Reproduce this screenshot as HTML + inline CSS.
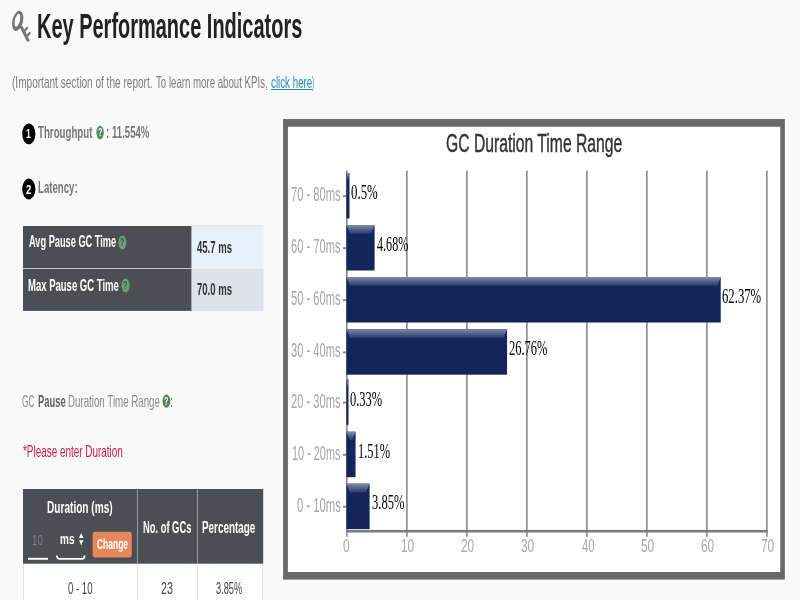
<!DOCTYPE html>
<html lang="en">
<head>
<meta charset="utf-8">
<title>Key Performance Indicators</title>
<style>
html,body{margin:0;padding:0}
body{width:800px;height:600px;overflow:hidden;background:#f9f9f9;position:relative;font-family:'Liberation Sans',sans-serif}
.t{position:absolute;white-space:nowrap;transform-origin:0 0;display:block}
.b{position:absolute}
svg{position:absolute;left:0;top:0}
</style>
</head>
<body>
<svg width="800" height="600" viewBox="0 0 800 600">
<defs>
<linearGradient id="hl" x1="0" y1="0" x2="0" y2="1"><stop offset="0" stop-color="#808aab"/><stop offset="1" stop-color="#27386d"/></linearGradient>
</defs>
<!-- table 1 -->
<rect x="23" y="226" width="168.7" height="42.3" fill="#4b4e53"/>
<rect x="23" y="269" width="168.7" height="41.9" fill="#4b4e53"/>
<rect x="191.6" y="225.3" width="71.8" height="43.2" fill="#e9f2fc"/>
<rect x="191.6" y="225.3" width="71.8" height="1" fill="#dbe2ea"/>
<rect x="191.6" y="268.5" width="71.8" height="42.4" fill="#dde3e8"/>
<!-- table 2 -->
<rect x="23" y="563.6" width="240.2" height="40" fill="#fff"/>
<rect x="23" y="563.6" width="1" height="40" fill="#e0e0e0"/>
<rect x="262.2" y="563.6" width="1" height="40" fill="#e0e0e0"/>
<rect x="137" y="563.6" width="1" height="40" fill="#e0e0e0"/>
<rect x="197" y="563.6" width="1" height="40" fill="#e0e0e0"/>
<rect x="23" y="489" width="240.2" height="74.7" fill="#4b4e53"/>
<rect x="137" y="489" width="1" height="74.7" fill="#9a9c9f"/>
<rect x="197" y="489" width="1" height="74.7" fill="#9a9c9f"/>
<!-- input / select / button -->
<rect x="28" y="557.8" width="20" height="2" fill="#fff"/>
<path d="M56.9 555.6 Q56.9 558.8 59 558.8 H82.4 Q84.5 558.8 84.5 555.6" stroke="#fff" stroke-width="1.8" fill="none"/>
<rect x="92.6" y="531.8" width="39.2" height="25.6" rx="2.2" ry="3.2" fill="#e8865c"/>
<!-- chart frame -->
<rect x="283.1" y="119" width="501.75" height="460.6" fill="#696969"/>
<rect x="287.9" y="126.75" width="492.35" height="445.25" fill="#fff"/>
<!-- key icon -->
<g>
<ellipse cx="17.7" cy="20.9" rx="5.3" ry="10.3" fill="#757575" transform="rotate(14 17.7 20.9)"/>
<ellipse cx="17.4" cy="20.3" rx="2.5" ry="6.6" fill="#f9f9f9" transform="rotate(14 17.4 20.3)"/>
<path d="M21 26.4 L28.6 41.4" stroke="#757575" stroke-width="3.1" fill="none"/>
<path d="M24.6 31 L27.8 27.2 M27.2 36 L30.2 32.4" stroke="#757575" stroke-width="2.2" fill="none"/>
</g>
<!-- bullets -->
<ellipse cx="28.8" cy="133.8" rx="6.6" ry="10.4" fill="#000"/>
<ellipse cx="28.8" cy="189" rx="6.6" ry="10.4" fill="#000"/>
<!-- question icons -->
<ellipse cx="100.1" cy="132.6" rx="3.7" ry="6.8" fill="#568d60"/>
<ellipse cx="122.4" cy="242.5" rx="4" ry="6.9" fill="#6aa075"/>
<ellipse cx="125.6" cy="285.5" rx="4" ry="6.9" fill="#6aa075"/>
<ellipse cx="166.4" cy="401.1" rx="3.9" ry="6.6" fill="#4f8059"/>
<!-- select arrows -->
<path d="M79 538 L81.2 533 L83.4 538 Z M79 540.2 L81.2 545.4 L83.4 540.2 Z" fill="#fff"/>
<!-- grid -->
<g fill="#6e6e6e">
<rect x="346.25" y="170.6" width="1.3" height="366.2"/>
<rect x="406.25" y="170.6" width="1.3" height="366.2"/>
<rect x="466.25" y="170.6" width="1.3" height="366.2"/>
<rect x="526.25" y="170.6" width="1.3" height="366.2"/>
<rect x="586.25" y="170.6" width="1.3" height="366.2"/>
<rect x="646.25" y="170.6" width="1.3" height="366.2"/>
<rect x="706.25" y="170.6" width="1.3" height="366.2"/>
<rect x="766.25" y="170.6" width="1.3" height="366.2"/>
</g><g fill="#8a8a8a">
<rect x="343" y="195.15" width="3.6" height="2"/>
<rect x="343" y="247.15" width="3.6" height="2"/>
<rect x="343" y="299.15" width="3.6" height="2"/>
<rect x="343" y="351.35" width="3.6" height="2"/>
<rect x="343" y="401.55" width="3.6" height="2"/>
<rect x="343" y="453.85" width="3.6" height="2"/>
<rect x="343" y="505.75" width="3.6" height="2"/>
</g>
<rect x="346.3" y="529.9" width="421.4" height="2.6" fill="#7a7a7a"/>
<rect x="346.4" y="173.00" width="3.10" height="45.5" fill="#13255a"/>
<path d="M346.4 173.00 H349.50 L347.95 181.80 H347.95 Z" fill="url(#hl)"/>
<rect x="346.4" y="225.00" width="28.18" height="45.5" fill="#13255a"/>
<path d="M346.4 225.00 H374.58 L371.18 233.80 H349.80 Z" fill="url(#hl)"/>
<rect x="346.4" y="277.00" width="374.32" height="45.5" fill="#13255a"/>
<path d="M346.4 277.00 H720.72 L717.32 285.80 H349.80 Z" fill="url(#hl)"/>
<rect x="346.4" y="329.20" width="160.66" height="45.5" fill="#13255a"/>
<path d="M346.4 329.20 H507.06 L503.66 338.00 H349.80 Z" fill="url(#hl)"/>
<rect x="346.4" y="379.40" width="2.08" height="45.5" fill="#13255a"/>
<path d="M346.4 379.40 H348.48 L347.44 388.20 H347.44 Z" fill="url(#hl)"/>
<rect x="346.4" y="431.70" width="9.16" height="45.5" fill="#13255a"/>
<path d="M346.4 431.70 H355.56 L352.16 440.50 H349.80 Z" fill="url(#hl)"/>
<rect x="346.4" y="483.60" width="23.20" height="45.5" fill="#13255a"/>
<path d="M346.4 483.60 H369.60 L366.20 492.40 H349.80 Z" fill="url(#hl)"/>
</svg>
<span class="t " style="left:36.86px;top:8.00px;font:700 35px/35px 'Liberation Sans',sans-serif;color:#222;transform:scaleX(0.5706);">Key Performance Indicators</span>
<span class="t " style="left:11.59px;top:74.00px;font:400 16.5px/16.5px 'Liberation Sans',sans-serif;color:#7d7d7d;transform:scaleX(0.6105);">(Important section of the report.</span>
<span class="t " style="left:156.00px;top:74.00px;font:400 16.5px/16.5px 'Liberation Sans',sans-serif;color:#7d7d7d;transform:scaleX(0.5853);">To learn more about KPIs,</span>
<span class="t " style="left:270.91px;top:74.00px;font:400 16.5px/16.5px 'Liberation Sans',sans-serif;color:#2b8bb3;transform:scaleX(0.5926);text-decoration:underline">click here</span>
<span class="t " style="left:312.20px;top:74.00px;font:400 16.5px/16.5px 'Liberation Sans',sans-serif;color:#7d7d7d;transform:scaleX(0.4000);">)</span>
<span class="t " style="left:26.33px;top:127.00px;font:700 13px/13px 'Liberation Sans',sans-serif;color:#fff;transform:scaleX(0.6667);">1</span>
<span class="t " style="left:38.40px;top:125.00px;font:700 16px/16px 'Liberation Sans',sans-serif;color:#777;transform:scaleX(0.6067);">Throughput</span>
<span class="t " style="left:106.40px;top:125.00px;font:700 16px/16px 'Liberation Sans',sans-serif;color:#777;transform:scaleX(0.6000);">:</span>
<span class="t " style="left:111.80px;top:125.00px;font:700 16px/16px 'Liberation Sans',sans-serif;color:#777;transform:scaleX(0.6000);">11.554%</span>
<span class="t " style="left:26.40px;top:183.00px;font:700 13px/13px 'Liberation Sans',sans-serif;color:#fff;transform:scaleX(0.7429);">2</span>
<span class="t " style="left:37.80px;top:180.00px;font:700 16px/16px 'Liberation Sans',sans-serif;color:#777;transform:scaleX(0.6031);">Latency:</span>
<span class="t " style="left:28.50px;top:234.00px;font:700 16px/16px 'Liberation Sans',sans-serif;color:#fff;transform:scaleX(0.5768);">Avg Pause GC Time</span>
<span class="t " style="left:28.01px;top:278.00px;font:700 16px/16px 'Liberation Sans',sans-serif;color:#fff;transform:scaleX(0.5947);">Max Pause GC Time</span>
<span class="t " style="left:197.40px;top:240.00px;font:700 16px/16px 'Liberation Sans',sans-serif;color:#333;transform:scaleX(0.5966);">45.7 ms</span>
<span class="t " style="left:197.40px;top:282.00px;font:700 16px/16px 'Liberation Sans',sans-serif;color:#333;transform:scaleX(0.5966);">70.0 ms</span>
<span class="t " style="left:22.19px;top:393.00px;font:400 16.5px/16.5px 'Liberation Sans',sans-serif;color:#8c8c8c;transform:scaleX(0.5087);">GC</span>
<span class="t " style="left:37.63px;top:393.00px;font:700 16.5px/16.5px 'Liberation Sans',sans-serif;color:#666;transform:scaleX(0.5702);">Pause</span>
<span class="t " style="left:67.61px;top:393.00px;font:400 16.5px/16.5px 'Liberation Sans',sans-serif;color:#8c8c8c;transform:scaleX(0.5896);">Duration Time Range</span>
<span class="t " style="left:170.25px;top:393.00px;font:400 16.5px/16.5px 'Liberation Sans',sans-serif;color:#666;transform:scaleX(0.6500);">:</span>
<span class="t " style="left:22.80px;top:443.00px;font:400 16.5px/16.5px 'Liberation Sans',sans-serif;color:#c9233f;transform:scaleX(0.6012);">*Please enter Duration</span>
<span class="t " style="left:46.97px;top:500.00px;font:700 16px/16px 'Liberation Sans',sans-serif;color:#fff;transform:scaleX(0.6314);">Duration (ms)</span>
<span class="t " style="left:32.33px;top:533.00px;font:400 14.5px/14.5px 'Liberation Sans',sans-serif;color:#7d7f83;transform:scaleX(0.6667);">10</span>
<span class="t " style="left:60.33px;top:531.00px;font:700 15px/15px 'Liberation Sans',sans-serif;color:#fff;transform:scaleX(0.6700);">ms</span>
<span class="t " style="left:97.00px;top:536.00px;font:700 15.5px/15.5px 'Liberation Sans',sans-serif;color:#fff;transform:scaleX(0.5464);">Change</span>
<span class="t " style="left:143.01px;top:520.00px;font:700 16px/16px 'Liberation Sans',sans-serif;color:#fff;transform:scaleX(0.5852);">No. of GCs</span>
<span class="t " style="left:202.38px;top:520.00px;font:700 16px/16px 'Liberation Sans',sans-serif;color:#fff;transform:scaleX(0.6188);">Percentage</span>
<span class="t " style="left:68.00px;top:581.00px;font:400 16px/16px 'Liberation Sans',sans-serif;color:#444;transform:scaleX(0.6000);">0 - 10</span>
<span class="t " style="left:161.34px;top:581.00px;font:400 16px/16px 'Liberation Sans',sans-serif;color:#444;transform:scaleX(0.6625);">23</span>
<span class="t " style="left:216.42px;top:581.00px;font:400 16px/16px 'Liberation Sans',sans-serif;color:#444;transform:scaleX(0.5773);">3.85%</span>
<span class="t " style="left:446.00px;top:130.00px;font:400 26px/26px 'Liberation Sans',sans-serif;color:#333;transform:scaleX(0.6038);-webkit-text-stroke:0.45px #333">GC Duration Time Range</span>
<span class="t " style="left:290.83px;top:185.00px;font:400 19.5px/19.5px 'Liberation Sans',sans-serif;color:#a6a6a6;transform:scaleX(0.5729);">70 - 80ms</span>
<span class="t " style="left:290.83px;top:237.00px;font:400 19.5px/19.5px 'Liberation Sans',sans-serif;color:#a6a6a6;transform:scaleX(0.5706);">60 - 70ms</span>
<span class="t " style="left:290.83px;top:289.00px;font:400 19.5px/19.5px 'Liberation Sans',sans-serif;color:#a6a6a6;transform:scaleX(0.5706);">50 - 60ms</span>
<span class="t " style="left:290.83px;top:341.00px;font:400 19.5px/19.5px 'Liberation Sans',sans-serif;color:#a6a6a6;transform:scaleX(0.5706);">30 - 40ms</span>
<span class="t " style="left:290.83px;top:392.00px;font:400 19.5px/19.5px 'Liberation Sans',sans-serif;color:#a6a6a6;transform:scaleX(0.5706);">20 - 30ms</span>
<span class="t " style="left:291.84px;top:444.00px;font:400 19.5px/19.5px 'Liberation Sans',sans-serif;color:#a6a6a6;transform:scaleX(0.5588);">10 - 20ms</span>
<span class="t " style="left:296.82px;top:496.00px;font:400 19.5px/19.5px 'Liberation Sans',sans-serif;color:#a6a6a6;transform:scaleX(0.5770);">0 - 10ms</span>
<span class="t " style="left:350.66px;top:182.00px;font:400 20px/20px 'Liberation Serif',serif;color:#000;transform:scaleX(0.6425);">0.5%</span>
<span class="t " style="left:376.70px;top:234.00px;font:400 20px/20px 'Liberation Serif',serif;color:#000;transform:scaleX(0.6059);">4.68%</span>
<span class="t " style="left:722.26px;top:286.00px;font:400 20px/20px 'Liberation Serif',serif;color:#000;transform:scaleX(0.6350);">62.37%</span>
<span class="t " style="left:508.68px;top:338.00px;font:400 20px/20px 'Liberation Serif',serif;color:#000;transform:scaleX(0.6217);">26.76%</span>
<span class="t " style="left:350.28px;top:389.00px;font:400 20px/20px 'Liberation Serif',serif;color:#000;transform:scaleX(0.6220);">0.33%</span>
<span class="t " style="left:357.66px;top:441.00px;font:400 20px/20px 'Liberation Serif',serif;color:#000;transform:scaleX(0.6224);">1.51%</span>
<span class="t " style="left:371.67px;top:492.00px;font:400 20px/20px 'Liberation Serif',serif;color:#000;transform:scaleX(0.6260);">3.85%</span>
<span class="t " style="left:343.26px;top:537.00px;font:400 18.5px/18.5px 'Liberation Sans',sans-serif;color:#a8a8a8;transform:scaleX(0.6444);">0</span>
<span class="t " style="left:400.86px;top:537.00px;font:400 18.5px/18.5px 'Liberation Sans',sans-serif;color:#a8a8a8;transform:scaleX(0.6421);">10</span>
<span class="t " style="left:460.86px;top:537.00px;font:400 18.5px/18.5px 'Liberation Sans',sans-serif;color:#a8a8a8;transform:scaleX(0.6421);">20</span>
<span class="t " style="left:520.86px;top:537.00px;font:400 18.5px/18.5px 'Liberation Sans',sans-serif;color:#a8a8a8;transform:scaleX(0.6421);">30</span>
<span class="t " style="left:581.50px;top:537.00px;font:400 18.5px/18.5px 'Liberation Sans',sans-serif;color:#a8a8a8;transform:scaleX(0.6100);">40</span>
<span class="t " style="left:640.86px;top:537.00px;font:400 18.5px/18.5px 'Liberation Sans',sans-serif;color:#a8a8a8;transform:scaleX(0.6421);">50</span>
<span class="t " style="left:700.86px;top:537.00px;font:400 18.5px/18.5px 'Liberation Sans',sans-serif;color:#a8a8a8;transform:scaleX(0.6421);">60</span>
<span class="t " style="left:760.86px;top:537.00px;font:400 18.5px/18.5px 'Liberation Sans',sans-serif;color:#a8a8a8;transform:scaleX(0.6421);">70</span>
<span class="t " style="left:97.72px;top:127.00px;font:700 10.5px/10.5px 'Liberation Sans',sans-serif;color:#f9f9f9;transform:scaleX(0.6800);">?</span>
<span class="t " style="left:120.02px;top:237.00px;font:700 10.5px/10.5px 'Liberation Sans',sans-serif;color:#4b4e53;transform:scaleX(0.6800);">?</span>
<span class="t " style="left:123.22px;top:280.00px;font:700 10.5px/10.5px 'Liberation Sans',sans-serif;color:#4b4e53;transform:scaleX(0.6800);">?</span>
<span class="t " style="left:164.02px;top:396.00px;font:700 10.5px/10.5px 'Liberation Sans',sans-serif;color:#f9f9f9;transform:scaleX(0.6800);">?</span>
</body>
</html>
